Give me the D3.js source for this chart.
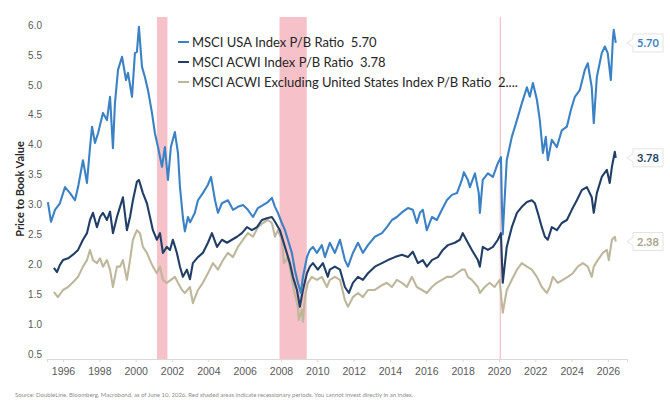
<!DOCTYPE html>
<html>
<head>
<meta charset="utf-8">
<script src="https://cdn.jsdelivr.net/npm/d3@7"></script>
<style>
  body { margin: 0; background: #fff; }
  svg { display: block; font-family: Lato, "Open Sans", sans-serif; }
</style>
</head>
<body>
<div id="vis"></div>
<script>
// values (decimal years, P/B ratio)
let usaYears = [1995.17,1995.34,1995.56,1995.83,1996.11,1996.39,1996.66,1996.83,1997.10,1997.32,1997.49,1997.60,1997.76,1997.93,1998.20,1998.42,1998.59,1998.75,1998.86,1999.03,1999.25,1999.47,1999.58,1999.80,1999.96,2000.07,2000.18,2000.35,2000.51,2000.68,2000.90,2001.06,2001.23,2001.45,2001.61,2001.78,2001.94,2002.16,2002.33,2002.44,2002.60,2002.71,2002.88,2003.00,2003.26,2003.43,2003.70,2003.98,2004.15,2004.37,2004.53,2004.75,2005.08,2005.36,2005.63,2005.91,2006.18,2006.46,2006.73,2007.01,2007.28,2007.50,2007.67,2007.83,2008.05,2008.22,2008.38,2008.60,2008.77,2008.93,2009.10,2009.21,2009.43,2009.59,2009.76,2009.98,2010.25,2010.42,2010.69,2010.97,2011.25,2011.52,2011.69,2011.96,2012.24,2012.51,2012.79,2013.17,2013.56,2013.83,2014.11,2014.38,2014.71,2014.99,2015.26,2015.48,2015.65,2015.81,2016.03,2016.31,2016.58,2016.86,2017.13,2017.41,2017.69,2017.96,2018.07,2018.29,2018.40,2018.68,2018.89,2018.95,2019.11,2019.39,2019.67,2019.94,2020.11,2020.16,2020.21,2020.43,2020.71,2020.99,2021.26,2021.54,2021.70,2021.87,2022.09,2022.25,2022.42,2022.58,2022.69,2022.91,2023.19,2023.46,2023.74,2023.96,2024.18,2024.45,2024.73,2024.89,2025.11,2025.22,2025.39,2025.66,2025.83,2025.99,2026.16,2026.27,2026.32,2026.43];
let usaPB = [3.04,2.71,2.91,3.02,3.29,3.19,3.07,3.29,3.74,3.36,3.96,4.30,4.03,4.19,4.53,4.41,4.80,3.94,4.69,5.25,5.47,5.08,5.20,4.80,5.53,5.55,5.97,5.30,5.13,4.91,4.53,4.19,3.96,3.63,3.96,3.41,3.96,4.21,3.86,3.29,2.79,2.55,2.79,2.70,2.86,3.07,3.19,3.33,3.46,3.07,2.86,3.02,3.07,2.91,2.96,2.99,2.91,2.79,2.94,2.99,3.04,3.11,2.96,2.86,2.69,2.57,2.41,2.19,1.90,1.69,1.52,1.79,2.12,2.24,2.29,2.19,2.32,2.12,2.36,2.19,2.41,2.07,1.96,2.19,2.36,2.19,2.32,2.46,2.52,2.62,2.74,2.79,2.88,2.94,2.91,2.69,2.86,2.91,2.57,2.79,2.74,2.91,3.07,3.16,3.19,3.41,3.54,3.41,3.29,3.52,3.19,2.86,3.41,3.52,3.46,3.69,3.79,3.02,2.50,3.74,4.13,4.41,4.69,4.96,4.80,5.03,4.75,4.41,3.86,4.13,3.74,4.08,3.96,4.24,4.30,4.58,4.80,4.91,5.25,5.36,4.96,4.36,5.13,5.53,5.64,5.53,5.08,5.75,5.92,5.70];

let acwiYears = [1995.50,1995.67,1995.83,1996.00,1996.28,1996.55,1996.83,1997.10,1997.32,1997.49,1997.65,1997.87,1998.04,1998.20,1998.42,1998.59,1998.75,1998.97,1999.14,1999.30,1999.52,1999.69,1999.85,2000.07,2000.18,2000.40,2000.62,2000.79,2000.95,2001.17,2001.34,2001.50,2001.72,2001.89,2002.05,2002.27,2002.44,2002.60,2002.82,2002.99,2003.15,2003.43,2003.70,2003.98,2004.20,2004.48,2004.75,2005.03,2005.30,2005.58,2005.85,2006.13,2006.40,2006.68,2006.95,2007.23,2007.50,2007.67,2007.94,2008.10,2008.32,2008.49,2008.66,2008.88,2009.04,2009.21,2009.43,2009.59,2009.76,2010.03,2010.31,2010.58,2010.69,2010.97,2011.25,2011.52,2011.74,2011.96,2012.24,2012.51,2012.79,2013.17,2013.56,2013.89,2014.27,2014.66,2014.99,2015.26,2015.54,2015.81,2016.03,2016.31,2016.64,2016.91,2017.19,2017.57,2017.85,2018.01,2018.29,2018.51,2018.84,2018.95,2019.11,2019.39,2019.67,2019.94,2020.11,2020.21,2020.43,2020.71,2020.99,2021.26,2021.54,2021.81,2021.98,2022.14,2022.36,2022.53,2022.69,2022.91,2023.19,2023.46,2023.74,2024.01,2024.29,2024.56,2024.84,2025.11,2025.22,2025.39,2025.66,2025.94,2026.10,2026.22,2026.38,2026.43];
let acwiPB = [1.94,1.87,1.99,2.07,2.10,2.16,2.24,2.41,2.52,2.74,2.86,2.62,2.79,2.86,2.74,2.88,2.52,2.79,2.96,3.12,2.57,2.79,3.07,3.38,3.41,3.19,3.02,2.79,2.57,2.41,2.52,2.19,2.29,2.24,2.41,2.19,1.96,1.79,1.91,1.75,2.02,2.12,2.19,2.36,2.52,2.29,2.41,2.36,2.41,2.46,2.52,2.62,2.57,2.62,2.74,2.77,2.79,2.71,2.57,2.41,2.19,2.02,1.79,1.57,1.29,1.57,1.85,1.96,2.02,1.91,2.02,1.79,1.91,1.96,1.91,1.62,1.52,1.69,1.79,1.74,1.85,1.96,2.02,2.07,2.12,2.16,2.12,2.21,2.02,2.07,1.96,2.07,2.12,2.24,2.32,2.36,2.41,2.52,2.36,2.24,2.07,1.96,2.29,2.24,2.29,2.41,2.52,1.69,2.29,2.62,2.86,2.96,3.04,3.07,3.02,2.86,2.62,2.46,2.41,2.62,2.57,2.69,2.74,2.91,3.07,3.24,3.29,3.12,2.86,3.19,3.46,3.58,3.36,3.63,3.88,3.78];

let exusYears = [1995.50,1995.72,1996.00,1996.28,1996.55,1996.83,1997.10,1997.32,1997.49,1997.65,1997.87,1998.04,1998.20,1998.42,1998.59,1998.75,1998.97,1999.14,1999.30,1999.52,1999.69,1999.85,2000.07,2000.24,2000.40,2000.62,2000.79,2000.95,2001.17,2001.34,2001.50,2001.72,2001.94,2002.16,2002.33,2002.55,2002.71,2002.99,2003.15,2003.43,2003.70,2003.98,2004.26,2004.53,2004.81,2005.08,2005.36,2005.63,2005.91,2006.18,2006.46,2006.73,2007.01,2007.28,2007.50,2007.67,2007.83,2008.05,2008.16,2008.38,2008.55,2008.71,2008.93,2008.98,2009.15,2009.21,2009.32,2009.48,2009.70,2009.98,2010.25,2010.53,2010.69,2010.97,2011.25,2011.52,2011.69,2011.96,2012.24,2012.51,2012.79,2013.17,2013.56,2013.83,2014.11,2014.38,2014.66,2014.93,2015.21,2015.48,2015.76,2016.03,2016.31,2016.58,2016.86,2017.13,2017.41,2017.69,2017.96,2018.12,2018.29,2018.51,2018.84,2018.95,2019.22,2019.49,2019.76,2020.04,2020.21,2020.43,2020.71,2020.99,2021.26,2021.54,2021.81,2022.09,2022.36,2022.64,2022.80,2022.97,2023.24,2023.52,2023.79,2024.07,2024.34,2024.62,2024.89,2025.11,2025.22,2025.44,2025.72,2025.94,2026.05,2026.22,2026.38,2026.43];
let exusPB = [1.54,1.45,1.57,1.62,1.70,1.79,1.96,2.07,2.24,2.07,2.02,2.10,1.96,2.07,1.91,1.62,1.96,1.96,2.07,1.74,2.07,2.41,2.57,2.52,2.29,2.19,2.07,1.96,1.85,1.96,1.74,1.69,1.74,1.79,1.69,1.57,1.52,1.62,1.35,1.57,1.69,1.85,2.02,1.91,2.07,2.19,2.12,2.29,2.41,2.52,2.46,2.62,2.69,2.74,2.69,2.46,2.57,2.41,2.02,2.12,1.85,1.57,1.29,1.07,1.24,1.04,1.45,1.69,1.79,1.74,1.79,1.62,1.74,1.79,1.74,1.40,1.29,1.45,1.52,1.45,1.57,1.57,1.65,1.69,1.62,1.74,1.69,1.62,1.79,1.62,1.57,1.52,1.62,1.69,1.74,1.79,1.79,1.85,1.91,1.91,1.79,1.74,1.62,1.52,1.62,1.69,1.62,1.74,1.19,1.57,1.74,1.91,2.02,1.96,1.91,1.79,1.62,1.52,1.62,1.79,1.69,1.74,1.79,1.85,1.96,2.02,1.96,1.79,1.96,2.07,2.19,2.24,2.07,2.41,2.46,2.38];

let seriesNames = ['MSCI USA Index P/B Ratio  5.70', 'MSCI ACWI Index P/B Ratio  3.78', 'MSCI ACWI Excluding United States Index P/B Ratio  2....'];
let lastValues = ['5.70', '3.78', '2.38'];
let colors = ['#3b82c4', '#213f66', '#bfb79c'];

// recessions (start, end) in decimal years
let recessions = [[2001.17, 2001.75], [2007.92, 2009.42], [2020.04, 2020.11]];

let xTicks = [1996, 1998, 2000, 2002, 2004, 2006, 2008, 2010, 2012, 2014, 2016, 2018, 2020, 2022, 2024, 2026];
let yTicks = [0.5, 1.0, 1.5, 2.0, 2.5, 3.0, 3.5, 4.0, 4.5, 5.0, 5.5, 6.0];

let width = 670, height = 411;
let plotTop = 17, plotBottom = 359;

let svg = d3.select('#vis')
  .append('svg')
  .attr('width', width)
  .attr('height', height);

let x = d3.scaleLinear().domain([1995.12, 2027.05]).range([47, 627]);
let y = d3.scaleLinear().domain([0.5, 6.0]).range([354, 25]);

// recession shading
svg.append('g')
  .selectAll('rect')
  .data(recessions)
  .join('rect')
  .attr('x', d => x(d[0]))
  .attr('y', plotTop)
  .attr('width', d => Math.max(1.2, x(d[1]) - x(d[0])))
  .attr('height', plotBottom - plotTop)
  .attr('fill', '#f6c1c8');

// y axis (labels only)
let yAxis = svg.append('g')
  .attr('transform', 'translate(44,0)')
  .call(d3.axisLeft(y).tickValues(yTicks).tickFormat(d3.format('.1f')).tickSize(0).tickPadding(2));
yAxis.select('.domain').remove();
yAxis.selectAll('text').attr('fill', '#595959').style('font-size', '10px');

// x axis
let xAxis = svg.append('g')
  .attr('transform', 'translate(0,' + plotBottom + ')')
  .call(d3.axisBottom(x).tickValues(xTicks).tickFormat(d3.format('d')).tickSize(3).tickPadding(6));
xAxis.select('.domain').attr('stroke', '#d9d9d9');
xAxis.selectAll('.tick line').attr('stroke', '#d9d9d9');
xAxis.selectAll('text').attr('fill', '#595959').style('font-size', '10.5px');

svg.append('text')
  .attr('transform', 'translate(24,189) rotate(-90)')
  .attr('text-anchor', 'middle')
  .attr('font-weight', 'bold')
  .attr('font-size', '11px')
  .attr('fill', '#262626')
  .text('Price to Book Value');

// lines, tan first so the blue sits on top
let series = [
  {years: usaYears, values: usaPB},
  {years: acwiYears, values: acwiPB},
  {years: exusYears, values: exusPB}
];

let line = d3.line()
  .x(d => x(d[0]))
  .y(d => y(d[1]));

[2, 1, 0].forEach(i => {
  let pts = d3.zip(series[i].years, series[i].values);
  svg.append('path')
    .datum(pts)
    .attr('fill', 'none')
    .attr('stroke', colors[i])
    .attr('stroke-width', 2.1)
    .attr('stroke-linejoin', 'round')
    .attr('d', line);
});

// legend
let legend = svg.append('g').attr('transform', 'translate(178,42)');
seriesNames.forEach((name, i) => {
  let row = legend.append('g').attr('transform', 'translate(0,' + (i * 20) + ')');
  row.append('line')
    .attr('x1', 0).attr('x2', 11)
    .attr('stroke', colors[i])
    .attr('stroke-width', 2);
  row.append('text')
    .attr('x', 14)
    .attr('dy', '0.36em')
    .attr('font-size', '13px')
    .attr('fill', '#262626')
    .style('white-space', 'pre')
    .text(name);
});

// last value callouts
lastValues.forEach((v, i) => {
  let cy = y(+v);
  let g = svg.append('g').attr('transform', 'translate(633,' + cy + ')');
  g.append('path')
    .attr('d', 'M0,-9 H30 V9 H0 V4 L-6,0 L0,-4 Z')
    .attr('fill', '#fff')
    .attr('stroke', '#e3e3e3');
  g.append('text')
    .attr('x', 15)
    .attr('dy', '0.36em')
    .attr('text-anchor', 'middle')
    .attr('font-size', '11px')
    .attr('font-weight', 'bold')
    .attr('fill', i == 2 ? '#a9a38b' : colors[i])
    .text(v);
});

// footnote
svg.append('text')
  .attr('x', 15)
  .attr('y', 397)
  .attr('font-size', '6px')
  .attr('fill', '#8c8c8c')
  .text('Source: DoubleLine, Bloomberg, Macrobond, as of June 10, 2026. Red shaded areas indicate recessionary periods. You cannot invest directly in an index.');
</script>
</body>
</html>
